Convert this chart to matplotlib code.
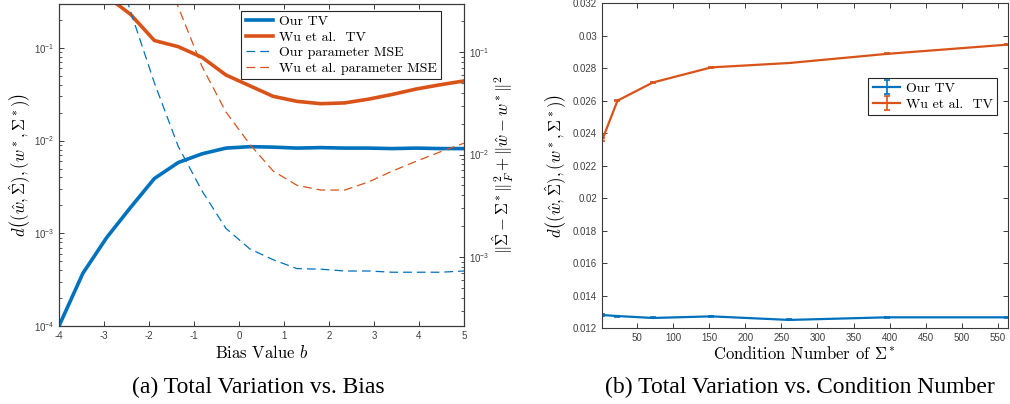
import numpy as np
import matplotlib
matplotlib.use("Agg")
import matplotlib.pyplot as plt
from matplotlib.font_manager import FontProperties
from matplotlib.ticker import LogLocator, FixedLocator, FuncFormatter, NullFormatter

# --- data, panel (a): TV / MSE vs bias ---
bias = [-4, -3.47, -2.94, -2.41, -1.88, -1.35, -0.82, -0.29, 0.24, 0.76,
        1.29, 1.82, 2.35, 2.88, 3.41, 3.94, 4.47, 5]
our_tv = [1.0e-4, 3.7e-4, 9.0e-4, 1.9e-3, 3.9e-3, 5.8e-3, 7.2e-3, 8.3e-3, 8.6e-3,
          8.5e-3, 8.3e-3, 8.4e-3, 8.3e-3, 8.3e-3, 8.2e-3, 8.3e-3, 8.2e-3, 8.2e-3]
wu_tv = [1.0, 0.7, 0.36, 0.23, 0.12, 0.103, 0.079, 0.051, 0.039, 0.030,
         0.0265, 0.025, 0.0255, 0.028, 0.0315, 0.036, 0.040, 0.044]
our_mse = [20, 6, 1.3, 0.25, 0.050, 0.012, 4.4e-3, 1.9e-3, 1.2e-3, 9.4e-4,
           7.7e-4, 7.6e-4, 7.3e-4, 7.3e-4, 7.1e-4, 7.1e-4, 7.1e-4, 7.3e-4]
wu_mse = [20, 10, 5, 2.5, 1.1, 0.275, 0.072, 0.026, 0.0126, 6.9e-3,
          5.0e-3, 4.5e-3, 4.5e-3, 5.4e-3, 6.9e-3, 8.6e-3, 0.0106, 0.0129]

# --- data, panel (b): TV vs condition number ---
cond_num = [2, 23, 72, 153, 261, 396, 563]
our_tv_b = [0.01280, 0.01274, 0.01262, 0.01272, 0.01250, 0.01266, 0.01266]
wu_tv_b = [0.02360, 0.02600, 0.02712, 0.02805, 0.02832, 0.02888, 0.02945]
our_err_b = [0.00004, 0.00003, 0.00003, 0.00003, 0.00003, 0.00003, 0.00003]
wu_err_b = [0.00008, 0.00004, 0.00003, 0.00003, 0.00003, 0.00003, 0.00003]

blue = "#0072BD"
orange = "#D95319"
axc = "#3a3a3a"
tickc = "#404040"

plt.rcParams['font.family'] = ['Liberation Sans', 'DejaVu Sans']
plt.rcParams['font.size'] = 7

fig = plt.figure(figsize=(10.1, 4.04), dpi=100)

lab_font = dict(fontfamily='cmr10', math_fontfamily='cm', fontsize=12)
leg_prop = FontProperties(family='cmr10', size=10, math_fontfamily='cm')


def style_axes(ax):
    for s in ax.spines.values():
        s.set_color(axc)
        s.set_linewidth(0.8)
    ax.tick_params(which='both', direction='in', colors=axc, labelcolor=tickc,
                   labelsize=7)
    ax.tick_params(which='major', length=3.5, width=0.7)
    ax.tick_params(which='minor', length=2, width=0.6)


# ---------- panel (a) ----------
ax1 = fig.add_axes([0.0584, 0.193, 0.401, 0.797])
ax2 = ax1.twinx()

l1, = ax1.plot(bias, our_tv, color=blue, lw=2.6, label="Our TV")
l2, = ax1.plot(bias, wu_tv, color=orange, lw=2.6, label="Wu et al.  TV")
l3, = ax2.plot(bias, our_mse, color=blue, lw=0.9, ls=(0, (7, 4)),
               label="Our parameter MSE")
l4, = ax2.plot(bias, wu_mse, color=orange, lw=0.9, ls=(0, (7, 4)),
               label="Wu et al. parameter MSE")

ax1.set_yscale('log')
ax2.set_yscale('log')
ax1.set_xlim(-4, 5)
ax1.set_ylim(1e-4, 0.297)
ax2.set_ylim(2.12e-4, 0.294)
ax1.set_xticks(range(-4, 6))
ax1.set_xticklabels([str(v) for v in range(-4, 6)])
for a in (ax1, ax2):
    a.yaxis.set_major_locator(LogLocator(base=10, numticks=10))
    a.yaxis.set_minor_locator(LogLocator(base=10, subs=np.arange(2, 10), numticks=10))
    a.yaxis.set_minor_formatter(NullFormatter())
    style_axes(a)
ax1.tick_params(axis='x', top=True)
ax1.tick_params(axis='y', right=False)

ax1.set_xlabel(r"Bias Value $b$", **lab_font)
ax1.xaxis.set_label_coords(0.5, -0.056)
ax1.set_ylabel(r"$d\left((\hat{w},\hat{\Sigma}),(w^*,\Sigma^*)\right)$", **lab_font)
ax1.yaxis.set_label_coords(-0.064, 0.5)
ax2.set_ylabel(r"$\|\hat{\Sigma}-\Sigma^*\|_F^2+\|\hat{w}-w^*\|^2$", **lab_font)
ax2.yaxis.set_label_coords(1.067, 0.5)

leg = ax2.legend([l1, l2, l3, l4], [l.get_label() for l in (l1, l2, l3, l4)],
                 loc='upper right', bbox_to_anchor=(0.943, 0.978), prop=leg_prop,
                 fancybox=False, framealpha=1, edgecolor='#262626',
                 borderpad=0.3, labelspacing=0.2, handlelength=2.0,
                 handletextpad=0.4, borderaxespad=0)
leg.get_frame().set_linewidth(0.8)

# ---------- panel (b) ----------
ax3 = fig.add_axes([0.596, 0.188, 0.402, 0.804])
ax3.errorbar(cond_num, our_tv_b, yerr=our_err_b, color=blue, lw=1.6,
             capsize=2, elinewidth=1.2, capthick=1.2, label="Our TV")
ax3.errorbar(cond_num, wu_tv_b, yerr=wu_err_b, color=orange, lw=1.6,
             capsize=2, elinewidth=1.2, capthick=1.2, label="Wu et al.  TV")
ax3.set_xlim(cond_num[0] - 0.5, cond_num[-1] + 1)
ax3.set_ylim(0.012, 0.032)
ax3.xaxis.set_major_locator(FixedLocator(np.arange(50, 600, 50)))
ax3.yaxis.set_major_locator(FixedLocator(np.arange(0.012, 0.0321, 0.002)))
ax3.yaxis.set_major_formatter(FuncFormatter(lambda v, p: f"{round(v, 3):g}"))
style_axes(ax3)
ax3.tick_params(top=True, right=True)
ax3.set_xlabel(r"Condition Number of $\Sigma^*$", **lab_font)
ax3.xaxis.set_label_coords(0.5, -0.052)
ax3.set_ylabel(r"$d\left((\hat{w},\hat{\Sigma}),(w^*,\Sigma^*)\right)$", **lab_font)
ax3.yaxis.set_label_coords(-0.08, 0.5)

leg2 = ax3.legend(loc='upper right', bbox_to_anchor=(0.973, 0.769), prop=leg_prop,
                  fancybox=False, framealpha=1, edgecolor='#262626',
                  borderpad=0.3, labelspacing=0.2, handlelength=2.0,
                  handletextpad=0.4, borderaxespad=0)
leg2.get_frame().set_linewidth(0.8)

# captions
cap = dict(fontfamily='Liberation Serif', fontsize=17, ha='center', va='center')
fig.text(258 / 1010, 1 - 387 / 404, "(a) Total Variation vs. Bias", **cap)
fig.text(800 / 1010, 1 - 387 / 404, "(b) Total Variation vs. Condition Number", **cap)

fig.savefig("out.png", dpi=100)
